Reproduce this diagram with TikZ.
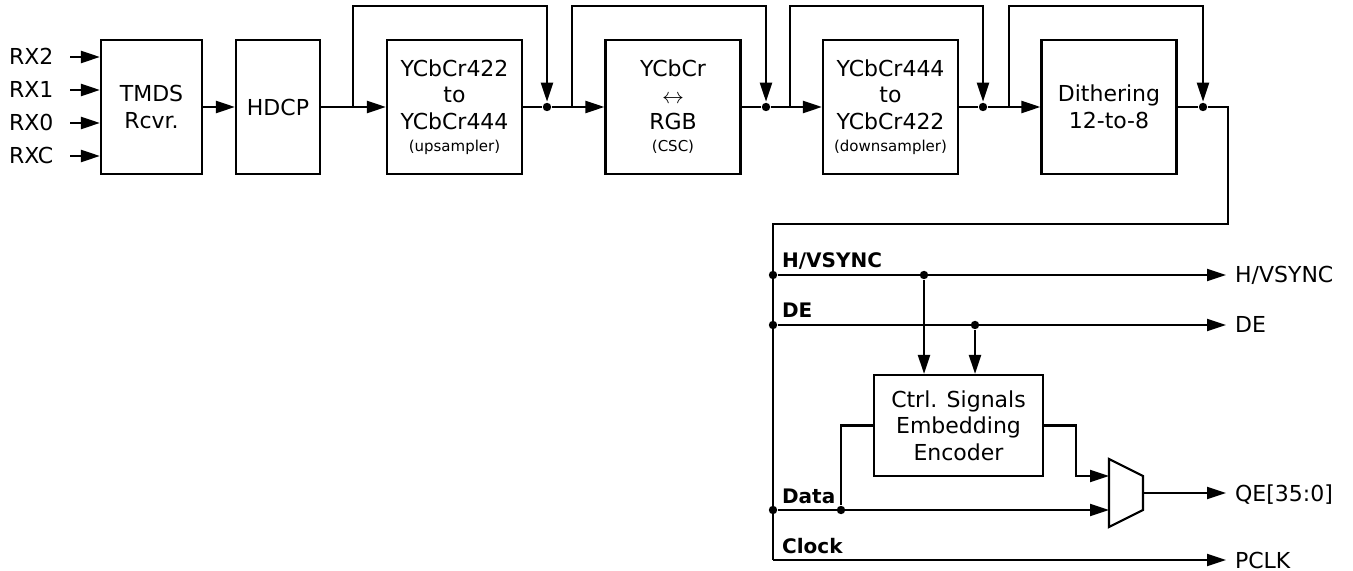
\documentclass[tikz,border=0pt]{standalone}
\usepackage{fontspec}
\setmainfont{DejaVu Sans}
\usetikzlibrary{arrows.meta}

\begin{document}
\begin{tikzpicture}[x=0.5pt,y=-0.5pt,line width=1.1pt,
	font=\fontsize{11}{13.3}\selectfont,
	>={Triangle[length=9.5pt,width=6pt]},
	block node/.style = {draw, align=center, minimum width=67.5pt, minimum height=67pt, inner sep=0pt},
	dot node/.style = {circle, fill, inner sep=0pt, minimum size=4.2pt},
	in node/.style = {anchor=west, text width=30pt, inner sep=0pt, text height=8pt, text depth=0pt},
	out node/.style = {anchor=west, inner sep=4pt, text height=8pt, text depth=0pt},
	bus node/.style = {anchor=base west, inner sep=0pt, font=\fontsize{10}{12}\selectfont\bfseries}]
	\useasboundingbox (0,0) rectangle (1353,571);
	
	% receiver side
	\node[in node] (rx2) at (8,57) {RX2};
	\node[in node] (rx1) at (8,90) {RX1};
	\node[in node] (rx0) at (8,123) {RX0};
	\node[in node] (rxc) at (8,156) {RXC};
	\node[block node,minimum width=50.5pt] (tmds) at (151.5,107) {TMDS\\Rcvr.};
	\node[block node,minimum width=42pt] (hdcp) at (278,107) {HDCP};
	\node[block node] (up) at (454.5,107) {YCbCr422\\to\\YCbCr444\\[-2.3pt]{\fontsize{7.5}{9}\selectfont (upsampler)}};
	\node[block node] (csc) at (673,107) {YCbCr\\$\leftrightarrow$\\RGB\\[-2.3pt]{\fontsize{7.5}{9}\selectfont (CSC)}};
	\node[block node] (down) at (890.5,107) {YCbCr444\\to\\YCbCr422\\[-2.3pt]{\fontsize{7.5}{9}\selectfont (downsampler)}};
	\node[block node] (dith) at (1109,107) {Dithering\\12-to-8};
	\node[dot node] (d1) at (547,107) {};
	\node[dot node] (d2) at (766,107) {};
	\node[dot node] (d3) at (983,107) {};
	\node[dot node] (d4) at (1203,107) {};
	\coordinate (top) at (0,6);
	\coordinate (b0) at (353,107);
	\coordinate (b1) at (572,107);
	\coordinate (b2) at (790,107);
	\coordinate (b3) at (1009,107);
	
	\path[->]
	(rx2) edge (rx2 -| tmds.west)
	(rx1) edge (rx1 -| tmds.west)
	(rx0) edge (rx0 -| tmds.west)
	(rxc) edge (rxc -| tmds.west)
	(tmds) edge (hdcp)
	(hdcp) edge (up)
	(d1) edge (csc)
	(d2) edge (down)
	(d3) edge (dith);
	\path (up) edge (d1) (csc) edge (d2) (down) edge (d3) (dith) edge (d4);
	\draw[->] (b0) |- (d1 |- top) -- (d1);
	\draw[->] (b1) |- (d2 |- top) -- (d2);
	\draw[->] (b2) |- (d3 |- top) -- (d3);
	\draw[->] (b3) |- (d4 |- top) -- (d4);
	
	% output side
	\coordinate (c0) at (1228,224);
	\node[dot node] (hs) at (773,275) {};
	\node[dot node] (de) at (773,325) {};
	\node[dot node] (dat) at (773,510) {};
	\coordinate (clk) at (773,560);
	\node[bus node] (lhs) at (781,268) {H/VSYNC};
	\node[bus node] (lde) at (781,318) {DE};
	\node[bus node] (ldat) at (781,503) {Data};
	\node[bus node] (lclk) at (781,553) {Clock};
	\node[dot node] (j0) at (924,275) {};
	\node[dot node] (j1) at (975,325) {};
	\node[dot node] (j2) at (841,510) {};
	\node[block node,minimum width=84.5pt,minimum height=50.5pt] (enc) at (958.5,425.5) {Ctrl. Signals\\Embedding\\Encoder};
	\coordinate (k0) at (1076,476);
	\coordinate (mux1) at (1109,476);
	\coordinate (mux2) at (1109,510);
	\coordinate (muxo) at (1143,493);
	\draw (1109,459) -- (1143,476) -- (1143,510) -- (1109,527) -- cycle;
	\node[out node] (ohs) at (1226,275) {H/VSYNC};
	\node[out node] (ode) at (1226,325) {DE};
	\node[out node] (oqe) at (1226,493) {QE[35:0]};
	\node[out node] (oclk) at (1226,560) {PCLK};
	
	\draw (d4) -| (c0) -| (clk);
	\draw (j2) |- (enc);
	\draw[->] (enc) -| (k0) -- (mux1);
	\draw[->] (j0) -- (j0 |- enc.north);
	\draw[->] (j1) -- (j1 |- enc.north);
	\path[->]
	(hs) edge (ohs)
	(de) edge (ode)
	(dat) edge (mux2)
	(muxo) edge (oqe)
	(clk) edge (oclk);
\end{tikzpicture}
\end{document}
